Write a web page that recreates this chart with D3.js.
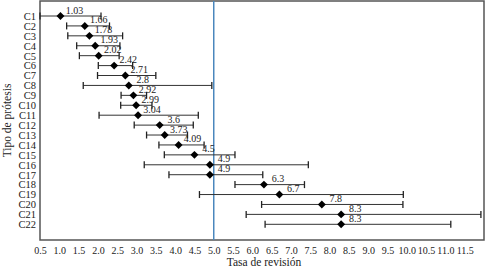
<!DOCTYPE html>
<html lang="es">
<head>
  <meta charset="UTF-8">
  <title>Tasa de revisión</title>
  <script src="https://d3js.org/d3.v7.min.js"></script>
  <style>
    body { margin: 0; background: #fff; }
    text { font-family: "Liberation Serif", "DejaVu Serif", serif; fill: #222; }
  </style>
</head>
<body>
  <div id="root"></div>
  <script>
    // datos
    const categories = ['C1','C2','C3','C4','C5','C6','C7','C8','C9','C10','C11',
                        'C12','C13','C14','C15','C16','C17','C18','C19','C20','C21','C22']
    const rates  = [1.03,1.66,1.78,1.93,2.02,2.42,2.71,2.8,2.92,2.99,3.04,
                    3.6,3.73,4.09,4.5,4.9,4.9,6.3,6.7,7.8,8.3,8.3]
    const lower  = [0.5,1.19,1.22,1.45,1.52,2.01,1.99,1.62,2.6,2.59,2.03,
                    2.94,3.26,3.58,3.72,3.2,3.84,5.55,4.63,6.24,5.84,6.33]
    const upper  = [2.08,2.3,2.64,2.57,2.55,2.9,3.5,4.95,3.26,3.4,4.6,
                    4.47,4.32,4.75,5.55,7.45,6.27,7.35,9.91,9.9,11.92,11.14]
    const xTicks = d3.range(0.5, 11.51, 0.5)
    const refRate = 5.0

    const width = 486, height = 270
    const mLeft = 40, mRight = 484, mTop = 1, mBottom = 240

    const svg = d3.select('#root')
      .append('svg')
      .attr('width', width)
      .attr('height', height)

    const x = d3.scaleLinear().domain([0.5, 12]).range([mLeft, mRight])
    const y = d3.scalePoint().domain(categories).range([16, 224.3])

    // marco
    svg.append('rect')
      .attr('x', mLeft).attr('y', mTop)
      .attr('width', mRight - mLeft).attr('height', mBottom - mTop)
      .attr('fill', 'none').attr('stroke', '#555').attr('stroke-width', 1.5)

    // eje x (solo etiquetas)
    const xAxis = svg.append('g')
      .attr('transform', `translate(0,${mBottom})`)
      .call(d3.axisBottom(x).tickValues(xTicks).tickFormat(d3.format('.1f')).tickSize(0).tickPadding(7))
    xAxis.select('.domain').remove()
    xAxis.selectAll('text').style('font-size', '10px').style('font-family', '"Liberation Serif", serif').attr('fill', '#222')

    // eje y
    const yAxis = svg.append('g')
      .attr('transform', `translate(${mLeft},0)`)
      .call(d3.axisLeft(y).tickSize(0).tickPadding(4))
    yAxis.select('.domain').remove()
    yAxis.selectAll('text').style('font-size', '10.5px').style('font-family', '"Liberation Serif", serif').attr('fill', '#222')

    svg.append('text')
      .attr('x', (mLeft + mRight) / 2 + 2).attr('y', 266)
      .attr('text-anchor', 'middle')
      .style('font-size', '11.5px')
      .text('Tasa de revisión')

    svg.append('text')
      .attr('transform', `translate(11,${(mTop + mBottom) / 2}) rotate(-90)`)
      .attr('text-anchor', 'middle')
      .style('font-size', '11.5px')
      .text('Tipo de prótesis')

    // línea de referencia
    svg.append('line')
      .attr('x1', x(refRate)).attr('x2', x(refRate))
      .attr('y1', mTop).attr('y2', mBottom)
      .attr('stroke', '#4a87bd').attr('stroke-width', 1.5)

    const rows = categories.map((c, i) => ({ c, v: rates[i], lo: lower[i], hi: upper[i] }))

    const g = svg.append('g')
      .selectAll('g')
      .data(rows)
      .enter()
      .append('g')

    g.append('line')
      .attr('x1', d => x(d.lo)).attr('x2', d => x(d.hi))
      .attr('y1', d => y(d.c)).attr('y2', d => y(d.c))
      .attr('stroke', '#333').attr('stroke-width', 1)

    g.selectAll('.cap')
      .data(d => [[d.lo, d.c], [d.hi, d.c]])
      .enter()
      .append('line')
      .attr('x1', d => x(d[0])).attr('x2', d => x(d[0]))
      .attr('y1', d => y(d[1]) - 3.5).attr('y2', d => y(d[1]) + 3.5)
      .attr('stroke', '#222').attr('stroke-width', 1.3)

    g.append('path')
      .attr('d', d3.symbol().type(d3.symbolDiamond2).size(40))
      .attr('transform', d => `translate(${x(d.v)},${y(d.c)})`)
      .attr('fill', '#000')

    g.append('text')
      .attr('x', d => x(d.v) + 14).attr('y', d => y(d.c) - 2.5)
      .attr('text-anchor', 'middle')
      .style('font-size', '10px')
      .attr('fill', '#333')
      .text(d => d.v)
  </script>
</body>
</html>
